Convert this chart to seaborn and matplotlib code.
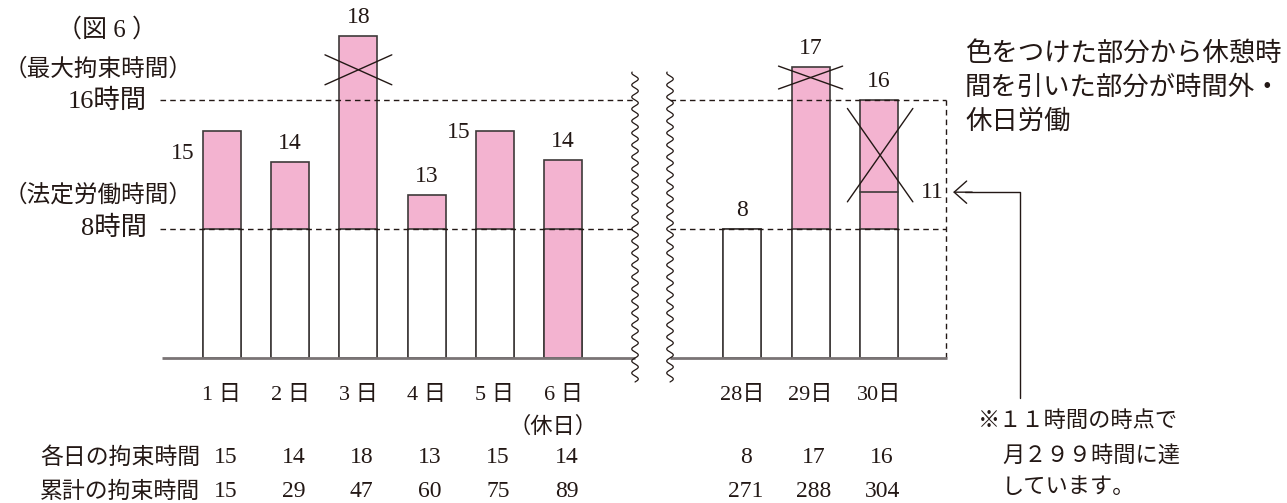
import numpy as np
import pandas as pd
import matplotlib
matplotlib.use("Agg")
import matplotlib.pyplot as plt
import seaborn as sns

# data
days = ["1 日", "2 日", "3 日", "4 日", "5 日", "6 日", "28日", "29日", "30日"]
hours = [15, 14, 18, 13, 15, 14, 8, 17, 16]
cumulative = [15, 29, 47, 60, 75, 89, 271, 288, 304]
# bar heights as drawn (the figure is schematic above the 8h line)
drawn = [14.1, 12.2, 20.0, 10.1, 14.1, 12.3, 8.0, 18.1, 16.0]
holiday = [False, False, False, False, False, True, False, False, False]
legal_hours = 8
max_bind_hours = 16
reach_label = 11
reach_drawn = 10.3

sns.set_theme(style="white")
plt.rcParams["font.family"] = ["Liberation Serif", "Noto Sans CJK JP"]

W, H = 1287, 503
ink = "#231815"
pink = "#f3b3d0"
edge = "#3e3a39"

fig = plt.figure(figsize=(W / 100, H / 100), dpi=100)
ax = fig.add_axes([0, 0, 1, 1])

xpos = [i if i < 6 else i + 1.63 for i in range(len(days))]
bw = 0.557
df = pd.DataFrame({
    "x": xpos,
    "drawn": drawn,
    "lower": [min(d, legal_hours) for d in drawn],
    "holiday": holiday,
})

sns.barplot(data=df, x="x", y="drawn", native_scale=True, width=bw, color=pink,
            saturation=1, edgecolor=edge, linewidth=1.2, errorbar=None, ax=ax)
sns.barplot(data=df, x="x", y="lower", hue="holiday", palette={False: "white", True: pink},
            native_scale=True, width=bw, dodge=False, saturation=1, edgecolor=edge,
            linewidth=1.2, errorbar=None, legend=False, ax=ax)

# guide lines with the axis break
x0, bl, br, x1 = -0.91, 6.056, 6.569, 10.616
dash = (0, (4, 3))
for y in (legal_hours, max_bind_hours):
    ax.plot([x0, bl], [y, y], ls=dash, lw=1, color=ink, zorder=5)
    ax.plot([br, x1], [y, y], ls=dash, lw=1, color=ink, zorder=5)
ax.plot([x1, x1], [0, max_bind_hours], ls=dash, lw=1, color=ink, zorder=5)

base = "#7a7475"
ax.plot([-0.88, bl], [0, 0], color=base, lw=2, zorder=6, solid_capstyle="butt")
ax.plot([br, 10.63], [0, 0], color=base, lw=2, zorder=6, solid_capstyle="butt")

yy = np.linspace(-1.49, 17.76, 900)
for xb in (bl, br):
    ax.plot(xb + 0.048 * np.sin(2 * np.pi * yy * 16.1 / 12.0), yy, color=ink, lw=0.9, zorder=6)

# 11h mark inside the 30th bar
ax.plot([xpos[8] - bw / 2, xpos[8] + bw / 2], [reach_drawn, reach_drawn], color=edge, lw=1.2, zorder=6)


def cross(xc, yc, hw, hh):
    ax.plot([xc - hw, xc + hw], [yc + hh, yc - hh], color=ink, lw=1, zorder=7)
    ax.plot([xc - hw, xc + hw], [yc - hh, yc + hh], color=ink, lw=1, zorder=7)


cross(xpos[2], 17.9, 0.49, 0.93)
cross(xpos[7], 17.42, 0.47, 0.71)
cross(xpos[8] + 0.02, 12.6, 0.48, 2.9)

# value labels on bars
for i, (x, d, h) in enumerate(zip(xpos, drawn, hours)):
    if i == 0:
        tx, ty = x - 0.57, d - 1.37
    elif i == 4:
        tx, ty = x - 0.53, d - 0.1
    else:
        tx, ty = x, d + 1.15
    ax.text(tx, ty, str(h), ha="center", va="center", fontsize=17, color=ink)
ax.text(10.42, reach_drawn, str(reach_label), ha="center", va="center", fontsize=17, color=ink)

# arrow to the 11h point
ax.plot([11.7, 11.7, 10.9], [-2.48, reach_drawn, reach_drawn], color=ink, lw=1, zorder=6)
ax.annotate("", xy=(10.72, reach_drawn), xytext=(11.0, reach_drawn),
            arrowprops=dict(arrowstyle="->,head_length=0.45,head_width=0.4", color=ink, lw=1,
                            shrinkA=0, shrinkB=0, mutation_scale=20))

# day labels and table
for x, lab in zip(xpos, days):
    ax.text(x, -2.30, lab, ha="center", va="center", fontsize=16, color=ink)
ax.text(xpos[5] - 0.15, -4.29, "（休日）", ha="center", va="center", fontsize=16, color=ink)

ax.text(-0.32, -6.21, "各日の拘束時間", ha="right", va="center", fontsize=16.5, color=ink)
ax.text(-0.32, -8.32, "累計の拘束時間", ha="right", va="center", fontsize=16.5, color=ink)
for x, h, c in zip(xpos, hours, cumulative):
    ax.text(x + 0.05, -6.21, str(h), ha="center", va="center", fontsize=17, color=ink)
    ax.text(x + 0.05, -8.32, str(c), ha="center", va="center", fontsize=17, color=ink)

ax.set_xlim(-222 / 68.2, (W - 222) / 68.2)
ax.set_ylim((358 - H) / 16.1, 358 / 16.1)
ax.axis("off")


def pix(x, y):
    return x / W, 1 - y / H


fig.text(*pix(107, 30), "（図 6 ）", ha="center", va="center", fontsize=18, color=ink)
fig.text(*pix(98, 70), "（最大拘束時間）", ha="center", va="center", fontsize=17, color=ink)
fig.text(*pix(147, 101), "16時間", ha="right", va="center", fontsize=19, color=ink)
fig.text(*pix(98, 195), "（法定労働時間）", ha="center", va="center", fontsize=17, color=ink)
fig.text(*pix(147, 228), "8時間", ha="right", va="center", fontsize=19, color=ink)

for j, line in enumerate(["色をつけた部分から休憩時", "間を引いた部分が時間外・", "休日労働"]):
    fig.text(*pix(965, 53 + j * 34), line, ha="left", va="center", fontsize=19, color=ink)

fig.text(*pix(978, 422), "※１１時間の時点で", ha="left", va="center", fontsize=16, color=ink)
fig.text(*pix(1002, 456), "月２９９時間に達", ha="left", va="center", fontsize=16, color=ink)
fig.text(*pix(1002, 488), "しています。", ha="left", va="center", fontsize=16, color=ink)

fig.savefig("out.png", dpi=100)
